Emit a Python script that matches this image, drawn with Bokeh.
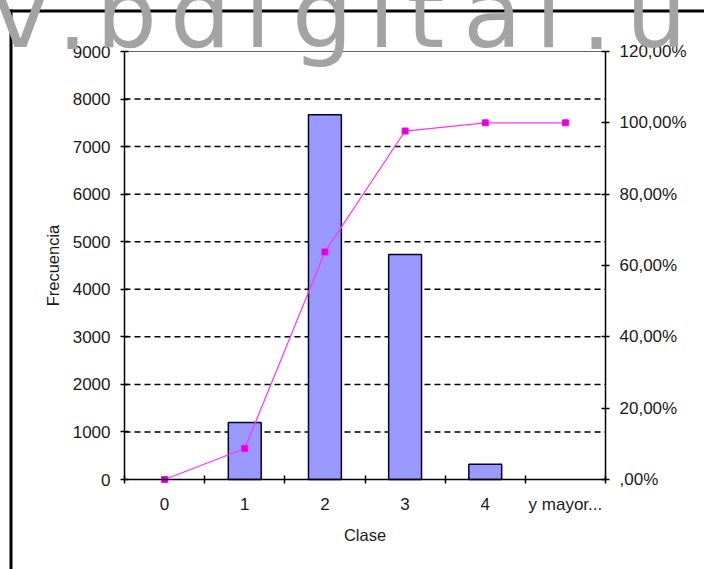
from bokeh.plotting import figure
from bokeh.models import Range1d, LinearAxis, FixedTicker, ColumnDataSource
from bokeh.core.properties import value
from bokeh.embed import file_html
from bokeh.resources import INLINE

# ---- data ----
categories = ["0", "1", "2", "3", "4", "y mayor..."]
frecuencia = [0, 1200, 7670, 4730, 320, 0]
acumulado = [0.0, 8.7, 63.8, 97.7, 100.0, 100.0]
freq_ticks = [0, 1000, 2000, 3000, 4000, 5000, 6000, 7000, 8000, 9000]
pct_ticks = [0, 20, 40, 60, 80, 100, 120]
pct_labels = [",00%", "20,00%", "40,00%", "60,00%", "80,00%", "100,00%", "120,00%"]
watermark_chars = ["v", ".", "b", "d", "i", "g", "i", "t", "a", "l", ".", "u"]

# ---- layout (canvas pixels) ----
W, H = 704, 569
PL, PR, PT, PB = 124, 605, 51, 479          # plot-area edges
watermark_px = [20, 72, 126, 200, 257, 322, 381, 425, 492, 548, 596, 656]
WM_Y = 13
WM_SIZE = "96px"

xs = list(range(len(categories)))
XMIN, XMAX = -0.5, len(categories) - 0.5
YMAX = freq_ticks[-1]
PMAX = pct_ticks[-1]
sx = (XMAX - XMIN) / (PR - PL)
sy = YMAX / (PB - PT)
sp = PMAX / (PB - PT)

def xd(px):
    return XMIN + (px - PL) * sx

def yd(py):
    return (PB - py) * sy

FONT = "Liberation Sans"
TXT = "#1a1a1a"

p = figure(width=W, height=H, min_border=0,
           x_range=Range1d(xd(0), xd(W)), y_range=Range1d(yd(H), yd(0)),
           output_backend="svg", toolbar_location=None, tools="")
p.extra_y_ranges = {"pct": Range1d(-(H - PB) * sp, PB * sp)}
p.background_fill_color = "white"
p.border_fill_color = "white"
p.outline_line_color = None
p.grid.visible = False

# dashed gridlines + plot-area top edge
grid_vals = freq_ticks[1:-1]
p.segment(x0=[XMIN] * len(grid_vals), x1=[XMAX] * len(grid_vals), y0=grid_vals, y1=grid_vals,
          line_color="black", line_width=1.5, line_dash="6 4")
p.segment(x0=[XMIN], x1=[XMAX], y0=[YMAX], y1=[YMAX], line_color="#666666", line_width=1)

# bars (zero-height classes are not drawn)
bx = [x for x, f in zip(xs, frecuencia) if f > 0]
bt = [f for f in frecuencia if f > 0]
p.vbar(x=bx, top=bt, width=0.41, fill_color="#9999ff", line_color="#000033", line_width=1.5)

# cumulative line
p.line(xs, acumulado, y_range_name="pct", line_color="#ff33ff", line_width=1.2)
p.scatter(xs, acumulado, y_range_name="pct", marker="square", size=6,
          fill_color="#e000d0", line_color="#ff00ff")

# x axis
xa = p.xaxis[0]
xa.fixed_location = 0
xa.bounds = (XMIN, XMAX)
xa.ticker = FixedTicker(ticks=xs, minor_ticks=[i - 0.5 for i in range(len(categories) + 1)])
xa.major_label_overrides = {i: c for i, c in zip(xs, categories)}
xa.major_tick_in = 0
xa.major_tick_out = 0
xa.minor_tick_in = 4
xa.minor_tick_out = 4
xa.minor_tick_line_color = "black"
xa.minor_tick_line_width = 1.5
xa.axis_label = "Clase"
xa.major_label_standoff = 11
xa.axis_label_standoff = 9

# left y axis
ya = p.yaxis[0]
ya.fixed_location = XMIN
ya.bounds = (0, YMAX)
ya.ticker = FixedTicker(ticks=freq_ticks)
ya.minor_tick_line_color = None
ya.axis_label = "Frecuencia"
ya.major_label_standoff = 10
ya.axis_label_standoff = 8

# right y axis
ra = LinearAxis(y_range_name="pct", ticker=FixedTicker(ticks=pct_ticks))
ra.fixed_location = XMAX
ra.bounds = (0, PMAX)
ra.major_label_overrides = {t: l for t, l in zip(pct_ticks, pct_labels)}
ra.minor_tick_line_color = None
ra.major_label_standoff = 10
p.add_layout(ra, "right")

for ax in (xa, ya, ra):
    ax.major_tick_line_width = 1.5
    if ax is not xa:
        ax.major_tick_in = 4
        ax.major_tick_out = 4
    ax.axis_line_width = 1.5
    ax.axis_line_color = "black"
    ax.major_tick_line_color = "black"
    ax.major_label_text_font = FONT
    ax.major_label_text_font_size = "17px"
    ax.major_label_text_color = TXT
    ax.axis_label_text_font = FONT
    ax.axis_label_text_font_size = "16.5px"
    ax.axis_label_text_font_style = "normal"
    ax.axis_label_text_color = TXT

# black frame lines (top and left edge of the picture)
p.quad(left=[xd(7)], right=[xd(W)], top=[yd(9)], bottom=[yd(12)],
       fill_color="black", line_color=None)
p.quad(left=[xd(9)], right=[xd(12)], top=[yd(9)], bottom=[yd(H)],
       fill_color="black", line_color=None)

# watermark
wm = ColumnDataSource(dict(x=[xd(v) for v in watermark_px],
                           y=[yd(WM_Y)] * len(watermark_px),
                           t=watermark_chars))
p.text(x="x", y="y", text="t", source=wm, text_align="center",
       text_baseline="alphabetic", text_font=value("DejaVu Sans"),
       text_font_size=WM_SIZE, text_color="#a3a3a3", level="overlay")

open("out.html", "w").write(file_html(p, INLINE))
